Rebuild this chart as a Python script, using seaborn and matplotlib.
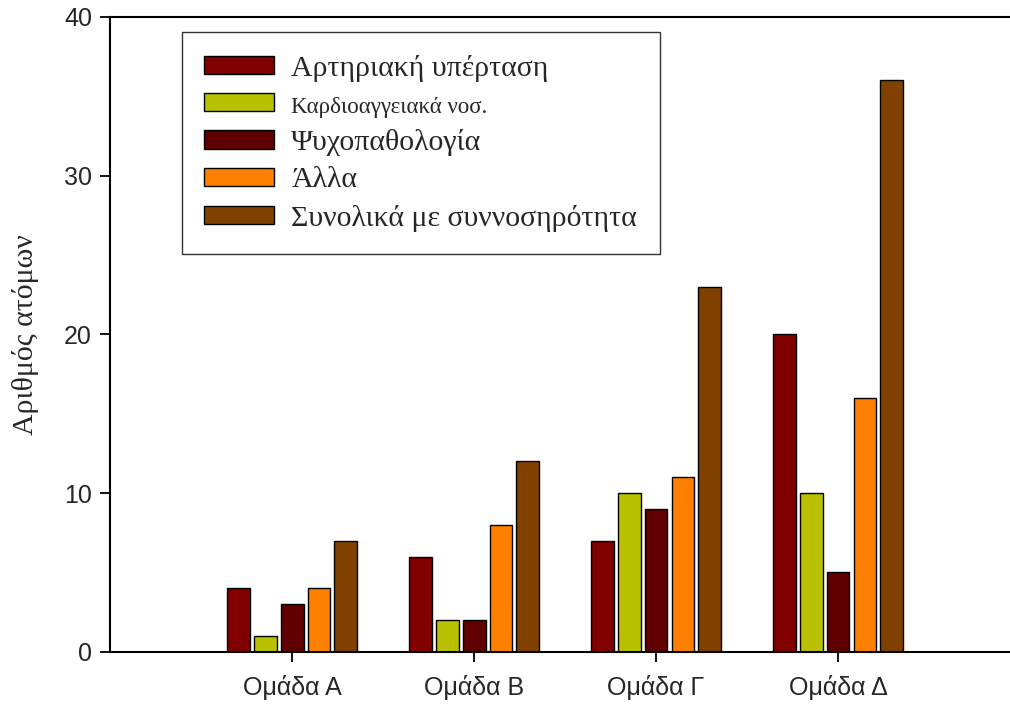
import pandas as pd
import matplotlib.pyplot as plt
import seaborn as sns

# Data
groups = ['Ομάδα A', 'Ομάδα B', 'Ομάδα Γ', 'Ομάδα Δ']
categories = ['Αρτηριακή υπέρταση', 'Καρδιοαγγειακά νοσ.', 'Ψυχοπαθολογία',
              'Άλλα', 'Συνολικά με συννοσηρότητα']
hypertension = [4, 6, 7, 20]
cardio = [1, 2, 10, 10]
psycho = [3, 2, 9, 5]
other = [4, 8, 11, 16]
total = [7, 12, 23, 36]
colors = ['#800000', '#b8c000', '#600000', '#ff8000', '#804000']

series = [hypertension, cardio, psycho, other, total]
rows = []
for cat, vals in zip(categories, series):
    for g, v in zip(groups, vals):
        rows.append({'group': g, 'category': cat, 'count': v})
df = pd.DataFrame(rows)

sns.set_style('white')
plt.rcParams['font.family'] = ['Liberation Sans', 'DejaVu Sans']

fig = plt.figure(figsize=(10.1, 7.07), dpi=100)
ax = fig.add_axes([0.109, 0.078, 0.891, 0.898])

sns.barplot(data=df, x='group', y='count', hue='category', order=groups,
            hue_order=categories, palette=colors, width=0.74, gap=0.15,
            edgecolor='black', linewidth=1, saturation=1, ax=ax)

ax.set_xlim(-1.0, 3.945)
ax.set_ylim(0, 40)
ax.set_yticks([0, 10, 20, 30, 40])
ax.set_xlabel('')
ax.set_ylabel('Αριθμός ατόμων', family=['Liberation Serif', 'DejaVu Serif'],
              fontsize=21.5, labelpad=18)

for side in ['left', 'top', 'bottom']:
    ax.spines[side].set_visible(True)
    ax.spines[side].set_color('black')
    ax.spines[side].set_linewidth(1.5)
ax.spines['right'].set_visible(False)

ax.tick_params(axis='both', which='major', direction='out', length=7, width=1.3,
               color='black', labelsize=18, bottom=True, left=True, top=False, right=False)
ax.tick_params(axis='x', pad=10)
ax.tick_params(axis='y', pad=6)

leg = ax.legend(loc='upper left', bbox_to_anchor=(0.08, 0.976), borderaxespad=0,
                fancybox=False, frameon=True, edgecolor='black',
                prop={'family': ['Liberation Serif', 'DejaVu Serif'], 'size': 21.5},
                handlelength=2.34, handleheight=0.57, labelspacing=0.38,
                borderpad=0.75, handletextpad=0.57)
leg.get_frame().set_linewidth(1)
leg.get_texts()[1].set_fontsize(16.5)

fig.savefig('out.png', dpi=100)
